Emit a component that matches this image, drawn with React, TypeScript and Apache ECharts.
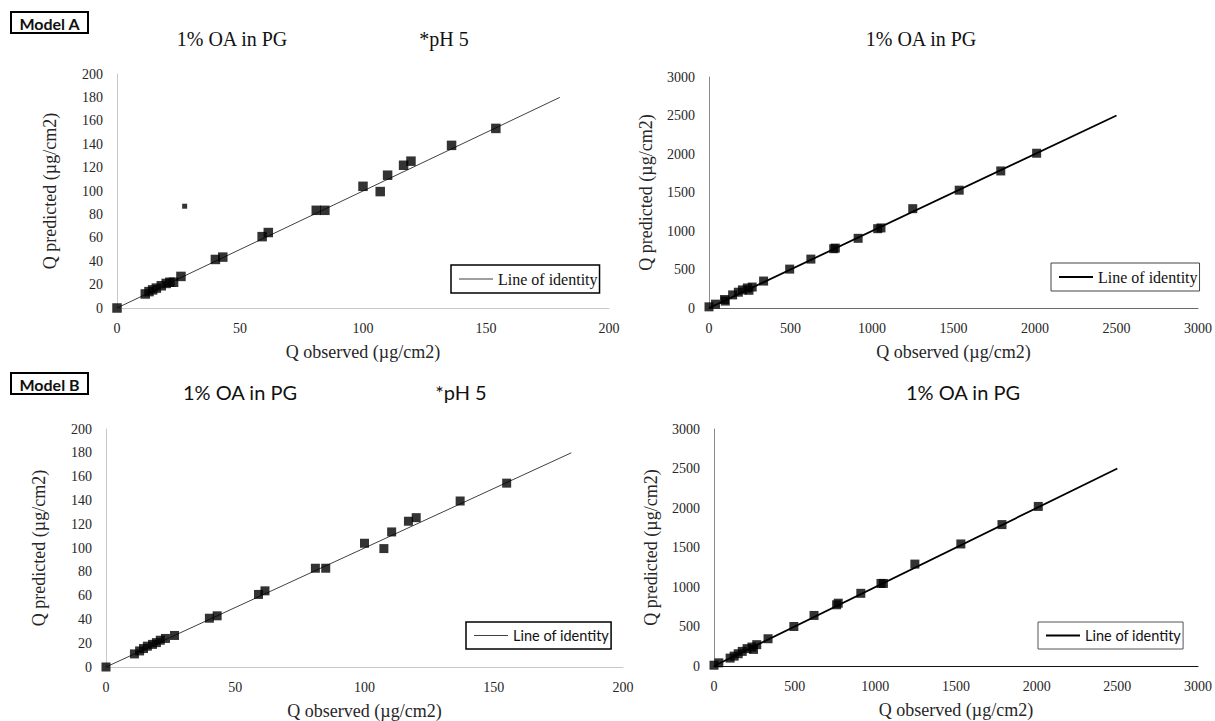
import React, { useEffect, useRef } from "react";
import * as echarts from "echarts";

// ---- data ----
const modelA_pH5: number[][] = [
  [0, 0], [11.5, 12], [13, 14], [14.5, 15.5], [16, 17], [18, 19], [20, 21], [21.5, 22], [23, 22], [26, 27],
  [40, 41.5], [43, 43.5], [59, 61], [61.5, 64.5], [81, 83.5], [84.5, 83.5], [100, 104], [107, 99.5],
  [110, 113.5], [116.5, 122], [119.5, 125.5], [136, 139], [154, 153.5],
];
const modelA_pH5_outlier: number[][] = [[27.5, 87]];
const modelA_PG: number[][] = [
  [0, 15], [40, 50], [95, 110], [100, 90], [145, 170], [180, 205], [205, 235], [235, 260], [245, 230],
  [265, 272], [335, 350], [495, 505], [625, 635], [765, 770], [775, 778], [915, 905], [1035, 1030],
  [1055, 1040], [1250, 1290], [1535, 1530], [1790, 1780], [2010, 2010],
];
const modelB_pH5: number[][] = [
  [0, 0], [11, 11], [13, 13.5], [14.5, 15.5], [16, 17.5], [18, 19], [19.5, 20.5], [21, 22.5], [23, 24],
  [26.5, 26.5], [40, 41], [43, 43], [59, 61], [61.5, 64], [81, 83], [85, 83], [100, 104], [107.5, 99.5],
  [110.5, 113.5], [117, 122.5], [120, 125.5], [137, 139.5], [155, 154.5],
];
const modelB_PG: number[][] = [
  [0, 10], [30, 40], [100, 100], [125, 125], [150, 155], [175, 185], [205, 220], [235, 240], [245, 210],
  [265, 270], [335, 345], [495, 500], [620, 640], [760, 775], [770, 795], [910, 920], [1035, 1045],
  [1050, 1045], [1245, 1290], [1530, 1545], [1785, 1790], [2010, 2020],
];
const identitySmall: number[][] = [[0, 0], [180, 180]];
const identityLarge: number[][] = [[0, 0], [2500, 2500]];

const smallAxisMax = 200;
const smallXInterval = 50;
const smallYInterval = 20;
const largeAxisMax = 3000;
const largeInterval = 500;

const titleText = "1% OA in PG";
const phText = "*pH 5";
const xName = "Q observed (\u00b5g/cm2)";
const yName = "Q predicted (\u00b5g/cm2)";
const lineName = "Line of identity";

const SERIF = "Liberation Serif";
const SANS = "Lato";

export default function App() {
  const ref = useRef<HTMLDivElement>(null);
  useEffect(() => {
    if (!ref.current) return;
    const chart = echarts.init(ref.current, undefined, { renderer: "svg" });

    const grids = [
      { left: 117, top: 74, width: 492, height: 234 },
      { left: 709, top: 77, width: 490, height: 231 },
      { left: 106, top: 429, width: 517, height: 238 },
      { left: 714, top: 429, width: 486, height: 237 },
    ];
    const axisCfg = [
      { max: smallAxisMax, xi: smallXInterval, yi: smallYInterval, yLine: "#c8c8c8", xLine: "#c8c8c8" },
      { max: largeAxisMax, xi: largeInterval, yi: largeInterval, yLine: "#8a8a8a", xLine: "#6a6a6a" },
      { max: smallAxisMax, xi: smallXInterval, yi: smallYInterval, yLine: "#c8c8c8", xLine: "#c8c8c8" },
      { max: largeAxisMax, xi: largeInterval, yi: largeInterval, yLine: "#8a8a8a", xLine: "#111" },
    ];
    const labelStyle = {
      fontFamily: SERIF,
      fontSize: 14,
      color: "#262626",
      formatter: (v: number) => String(v),
    };
    const nameStyle = { fontFamily: SERIF, fontSize: 18, color: "#262626" };

    const xAxis = axisCfg.map((c, i) => ({
      gridIndex: i,
      type: "value",
      min: 0,
      max: c.max,
      interval: c.xi,
      axisLine: { show: true, onZero: false, lineStyle: { color: c.xLine, width: 1 } },
      axisTick: { show: false },
      splitLine: { show: false },
      axisLabel: { ...labelStyle, margin: 13 },
      name: xName,
      nameLocation: "middle",
      nameGap: 35,
      nameTextStyle: nameStyle,
    }));
    const yAxis = axisCfg.map((c, i) => ({
      gridIndex: i,
      type: "value",
      min: 0,
      max: c.max,
      interval: c.yi,
      axisLine: { show: true, onZero: false, lineStyle: { color: c.yLine, width: 1 } },
      axisTick: { show: false },
      splitLine: { show: false },
      axisLabel: { ...labelStyle, margin: 14 },
      name: yName,
      nameLocation: "middle",
      nameGap: i % 2 === 0 ? 58 : 54,
      nameTextStyle: nameStyle,
    }));

    const scatter = (data: number[][], i: number, size: number) => ({
      type: "scatter",
      name: "obs" + i,
      xAxisIndex: i,
      yAxisIndex: i,
      data,
      symbol: "rect",
      symbolSize: size,
      itemStyle: { color: "#000" },
      z: 3,
    });
    const identity = (data: number[][], i: number, color: string, width: number) => ({
      type: "line",
      name: lineName,
      xAxisIndex: i,
      yAxisIndex: i,
      data,
      symbol: "none",
      lineStyle: { color, width },
      itemStyle: { color },
      z: 2,
    });

    const legendCfg = (
      left: number,
      top: number,
      font: string,
      border: string,
      bw: number,
      fs: number,
      iconH: number,
      iconColor: string
    ) => ({
      data: [{ name: lineName, icon: "rect", itemStyle: { color: iconColor } }],
      left,
      top,
      orient: "horizontal",
      padding: [6, 2, 6, 8],
      itemWidth: 34,
      itemHeight: iconH,
      borderColor: border,
      borderWidth: bw,
      backgroundColor: "#fff",
      selectedMode: false,
      textStyle: { fontFamily: font, fontSize: fs, color: "#111" },
    });

    // rich-text titles so the family is applied at the fragment level
    const title = (t: string, cx: number, cy: number, family: string, size: number) => ({
      text: "{t|" + t + "}",
      left: cx,
      top: cy - size / 2 - 1,
      padding: 0,
      textAlign: "center",
      textStyle: {
        fontFamily: family,
        fontSize: size,
        fontWeight: "normal",
        color: "#111",
        rich: {
          t: { fontFamily: family, fontSize: size, fontWeight: "normal", color: "#111" },
        },
      },
    });

    const boxText = (t: string, x: number, y: number) => ({
      type: "text",
      x,
      y,
      style: {
        text: t,
        fontFamily: SANS,
        fontSize: 16,
        fontWeight: "bold",
        fill: "#111",
        align: "center",
        verticalAlign: "middle",
      },
    });
    const modelBox = (label: string, y: number) => ({
      type: "group",
      children: [
        { type: "rect", shape: { x: 11, y, width: 77, height: 21 }, style: { fill: "#fff", stroke: "#000", lineWidth: 2 } },
        boxText(label, 49.5, y + 11),
      ],
    });

    chart.setOption({
      animation: false,
      backgroundColor: "#fff",
      title: [
        title(titleText, 232, 40, SERIF, 20),
        title(phText, 444, 40, SERIF, 20),
        title(titleText, 921, 40, SERIF, 20),
        title(titleText, 240, 393, SANS, 20),
        title(phText, 461, 393, SANS, 20),
        title(titleText, 963, 393, SANS, 20),
      ],
      grid: grids,
      xAxis,
      yAxis,
      legend: [
        legendCfg(451, 265, SERIF, "#000", 1.5, 16, 1, "#404040"),
        legendCfg(1051, 263, SERIF, "#444", 1, 16, 1.8, "#000"),
        legendCfg(466, 622, SANS, "#000", 1.5, 14.5, 1, "#404040"),
        legendCfg(1038, 622, SANS, "#555", 1, 14.5, 1.8, "#000"),
      ],
      series: [
        identity(identitySmall, 0, "#404040", 1),
        scatter(modelA_pH5, 0, 9.5),
        scatter(modelA_pH5_outlier, 0, 5),
        identity(identityLarge, 1, "#000", 1.8),
        scatter(modelA_PG, 1, 9),
        identity(identitySmall, 2, "#404040", 1),
        scatter(modelB_pH5, 2, 9),
        identity(identityLarge, 3, "#000", 1.8),
        scatter(modelB_PG, 3, 9),
      ],
      graphic: [modelBox("Model A", 12), modelBox("Model B", 373)],
    });
    return () => chart.dispose();
  }, []);
  return (
    <div
      ref={ref}
      style={{ position: "absolute", left: 0, top: 0, width: 1215, height: 721 }}
    />
  );
}
